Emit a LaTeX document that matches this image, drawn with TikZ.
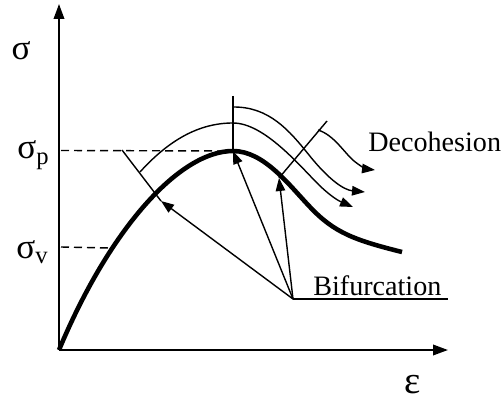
\documentclass[tikz,border=0pt]{standalone}
\usepackage{fontspec}
\setmainfont{Liberation Serif}
\usetikzlibrary{arrows.meta,positioning,calc}

\begin{document}
\begin{tikzpicture}[
  font=\fontsize{16}{19}\selectfont,
  axis/.style={-{Triangle[length=3mm,width=2.1mm]},line width=1.1pt},
  branch/.style={-{Triangle[length=2.6mm,width=1.9mm]},line width=0.8pt},
  tick/.style={line width=0.8pt},
  guide/.style={dash pattern=on 1.6mm off 1mm,line width=0.8pt},
  lbl/.style={font=\fontsize{20}{24}\selectfont,inner sep=0pt},
]
  \useasboundingbox (-1.18,-1.02) rectangle (8.9,7.0);

  \coordinate (O) at (0,0);
  \coordinate (V) at (1.02,2.04);    % limite elastico
  \coordinate (b1) at (2.04,2.98);
  \coordinate (b2) at (3.48,3.98);   % pico
  \coordinate (b3) at (4.40,3.44);
  \coordinate (hub) at (4.68,1.02);

  % ejes
  \draw[axis] (O) -- (0,6.92) coordinate (ytop);
  \draw[axis] (O) -- (7.78,0) coordinate (xtip);
  \node[lbl] (sig) at (-0.76,5.98) {σ};
  \node[font=\fontsize{22}{24}\selectfont,inner sep=0pt] (eps) at (7.08,-0.7) {ε};

  % curva tension-deformacion
  \draw[line width=2.6pt] (O) .. controls (1.0,2.4) and (2.4,3.98) .. (b2)
        .. controls (4.1,3.98) and (4.6,3.3) .. (5.02,2.86)
        .. controls (5.5,2.35) and (5.9,2.2) .. (6.86,1.96);

  \draw[guide] (0.04,3.99) -- (b2);
  \draw[guide] (0.04,2.06) -- (V);
  \node[lbl,anchor=east] (sigp) at (-0.2,3.9)
        {σ\raisebox{-0.35ex}{\fontsize{14}{16}\selectfont p}};
  \node[lbl,anchor=east] (sigv) at (-0.22,1.96)
        {σ\raisebox{-0.35ex}{\fontsize{14}{16}\selectfont v}};

  % marcas de bifurcacion
  \draw[tick] (1.26,4.0) -- (b1);
  \draw[tick] (3.48,5.08) -- (b2);
  \draw[tick] (b3) -- (5.36,4.58);

  % ramas de decohesion
  \draw[branch] (1.62,3.56) .. controls (2.2,4.2) and (2.8,4.54) .. (3.48,4.54)
        .. controls (4.1,4.54) and (4.8,3.7) .. (5.2,3.3)
        .. controls (5.45,3.06) and (5.6,2.98) .. (5.88,2.86);
  \draw[branch] (3.5,4.86) .. controls (4.2,4.86) and (4.6,4.4) .. (5.0,3.9)
        .. controls (5.4,3.4) and (5.7,3.2) .. (6.12,3.16);
  \draw[branch] (5.18,4.4) .. controls (5.5,4.3) and (5.7,3.95) .. (5.9,3.78)
        .. controls (6.05,3.66) and (6.15,3.62) .. (6.32,3.6);
  \node[anchor=base west,inner sep=0pt] (dec) at (6.18,3.96) {Decohesion};

  % bifurcacion
  \draw[tick] (hub) -- (7.78,1.02) coordinate (uline);
  \node[anchor=base west,inner sep=0pt] (bif) at (5.08,1.1) {Bifurcation};
  \draw[branch] (hub) -- (b1);
  \draw[branch] (hub) -- (b2);
  \draw[branch] (hub) -- (b3);
\end{tikzpicture}
\end{document}
